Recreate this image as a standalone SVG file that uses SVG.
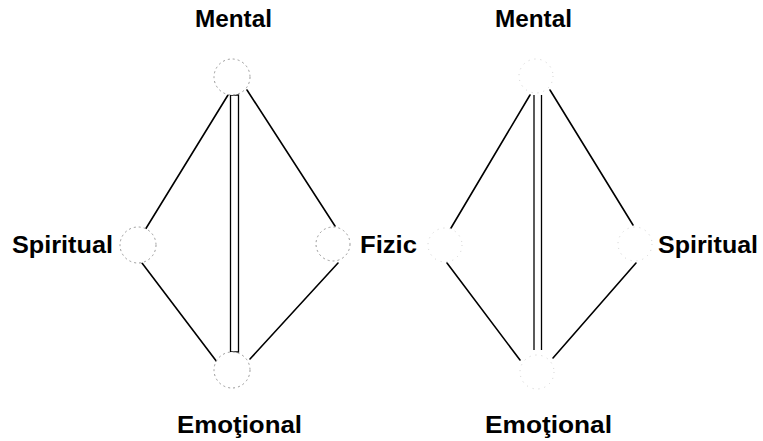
<svg xmlns="http://www.w3.org/2000/svg" width="763" height="441" viewBox="0 0 763 441">
<style>
.lbl{font-family:"Liberation Sans",Arial,sans-serif;font-weight:bold;font-size:23px;fill:#000}
.edge{stroke:#000;stroke-width:1.6;fill:none;stroke-linecap:round}
.thin{stroke:#000;stroke-width:1.3;fill:none}
.nodeL{fill:#fff;stroke:#9a9a9a;stroke-width:1;stroke-dasharray:2 3}
.nodeR{fill:#fff;stroke:#d0d0d0;stroke-width:1;stroke-dasharray:1 5}
</style>
<rect width="763" height="441" fill="#fff"/>
<g id="connectors">
<line class="edge" x1="228" y1="95" x2="145" y2="230"/>
<line class="edge" x1="247" y1="90" x2="335" y2="226"/>
<line class="edge" x1="142" y1="263" x2="217" y2="362"/>
<line class="edge" x1="338" y1="263" x2="250" y2="359"/>
<path class="thin" d="M230.5,95 V352 H238.5 V95 Z"/>
<line class="edge" x1="530" y1="95" x2="451" y2="228"/>
<line class="edge" x1="550" y1="90" x2="633" y2="225"/>
<line class="edge" x1="447" y1="263" x2="520" y2="360"/>
<line class="edge" x1="636" y1="263" x2="553" y2="358"/>
<line class="thin" x1="534" y1="95" x2="534" y2="350"/>
<line class="thin" x1="541.5" y1="95" x2="541.5" y2="350"/>
</g>
<g id="left-mental"><circle class="nodeL" cx="232" cy="77" r="18"/><text class="lbl" x="195" y="27" textLength="77" lengthAdjust="spacingAndGlyphs">Mental</text></g>
<g id="left-spiritual"><circle class="nodeL" cx="138" cy="245" r="18"/><text class="lbl" x="12" y="253" textLength="101" lengthAdjust="spacingAndGlyphs">Spiritual</text></g>
<g id="left-fizic"><circle class="nodeL" cx="333" cy="244" r="17"/><text class="lbl" x="360" y="253" textLength="57" lengthAdjust="spacingAndGlyphs">Fizic</text></g>
<g id="left-emotional"><circle class="nodeL" cx="232" cy="370" r="18"/><text class="lbl" x="177" y="433" textLength="125" lengthAdjust="spacingAndGlyphs">Emoţional</text></g>
<g id="right-mental"><circle class="nodeR" cx="536" cy="76" r="17"/><text class="lbl" x="495" y="27" textLength="77" lengthAdjust="spacingAndGlyphs">Mental</text></g>
<g id="right-fizic"><circle class="nodeR" cx="445" cy="245" r="17"/></g>
<g id="right-spiritual"><circle class="nodeR" cx="635" cy="244" r="17"/><text class="lbl" x="658" y="253" textLength="100" lengthAdjust="spacingAndGlyphs">Spiritual</text></g>
<g id="right-emotional"><circle class="nodeR" cx="537" cy="372" r="17"/><text class="lbl" x="485" y="433" textLength="127" lengthAdjust="spacingAndGlyphs">Emoţional</text></g>
</svg>
